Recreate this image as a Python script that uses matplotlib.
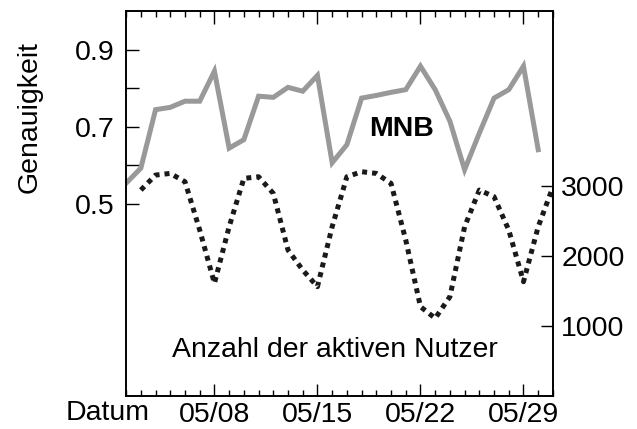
import numpy as np
import pandas as pd
import matplotlib
matplotlib.use("Agg")
import matplotlib.pyplot as plt
import matplotlib.dates as mdates

plt.rcParams['font.family'] = ['Liberation Sans', 'DejaVu Sans']

# accuracy of MNB, 05/02 - 05/30
acc_dates = pd.date_range('2021-05-02', '2021-05-30')
accuracy = [0.553, 0.592, 0.744, 0.750, 0.766, 0.766, 0.844, 0.644, 0.666,
            0.779, 0.776, 0.802, 0.792, 0.833, 0.606, 0.653, 0.774, 0.781,
            0.789, 0.796, 0.857, 0.796, 0.714, 0.588, 0.683, 0.774, 0.796,
            0.857, 0.640]

# active users, 05/03 - 05/31
user_dates = pd.date_range('2021-05-03', '2021-05-31')
users = [2943, 3157, 3181, 3062, 2371, 1610, 2419, 3110, 3133, 2895, 2086,
         1800, 1562, 2419, 3133, 3205, 3181, 3038, 2229, 1276, 1110, 1419,
         2419, 2943, 2848, 2371, 1633, 2419, 2990]

acc_ticks = [0.5, 0.6, 0.7, 0.8, 0.9]
acc_labels = ['0.5', '', '0.7', '', '0.9']
user_ticks = [1000, 2000, 3000]

fs = 20.5
fig = plt.figure(figsize=(6.37, 4.29), dpi=100)
ax = fig.add_axes([0.198, 0.077, 0.670, 0.897])
ax2 = ax.twinx()

ax.plot(acc_dates, accuracy, color='#999999', lw=3.6, solid_joinstyle='miter')
ax2.plot(user_dates, users, color='#1a1a1a', lw=3.6, linestyle=(0, (1, 1)),
         dash_capstyle='butt')

ax.set_xlim(pd.Timestamp('2021-05-02'), pd.Timestamp('2021-05-31'))
ax.set_ylim(0, 1.0)
ax2.set_ylim(0, 5500)

ax.xaxis.set_major_locator(mdates.DayLocator(bymonthday=[8, 15, 22, 29]))
ax.xaxis.set_minor_locator(mdates.DayLocator())
ax.xaxis.set_major_formatter(mdates.DateFormatter('%m/%d'))
ax.set_yticks(acc_ticks)
ax.set_yticklabels(acc_labels)
ax2.set_yticks(user_ticks)
ax2.set_yticklabels([str(v) for v in user_ticks])

ax.tick_params(axis='x', which='major', direction='in', length=9, width=1,
               top=True, labelsize=fs, pad=4)
ax.tick_params(axis='x', which='minor', direction='in', length=4, width=1,
               top=True)
ax.tick_params(axis='y', direction='in', length=9, width=1, labelsize=fs, pad=8)
ax2.tick_params(axis='y', direction='in', length=9, width=1, labelsize=fs, pad=6)

for a in (ax, ax2):
    for s in a.spines.values():
        s.set_linewidth(1.2)

ax.text(-0.225, 0.725, 'Genauigkeit', transform=ax.transAxes, rotation=90,
        ha='center', va='center', fontsize=fs)
ax.text(-0.043, -0.045, 'Datum', transform=ax.transAxes, ha='center',
        va='center', fontsize=fs)
ax.text(0.645, 0.695, 'MNB', transform=ax.transAxes, ha='center', va='center',
        fontsize=fs, fontweight='bold')
ax.text(0.49, 0.12, 'Anzahl der aktiven Nutzer', transform=ax.transAxes,
        ha='center', va='center', fontsize=fs)

fig.savefig('out.png', dpi=100)
